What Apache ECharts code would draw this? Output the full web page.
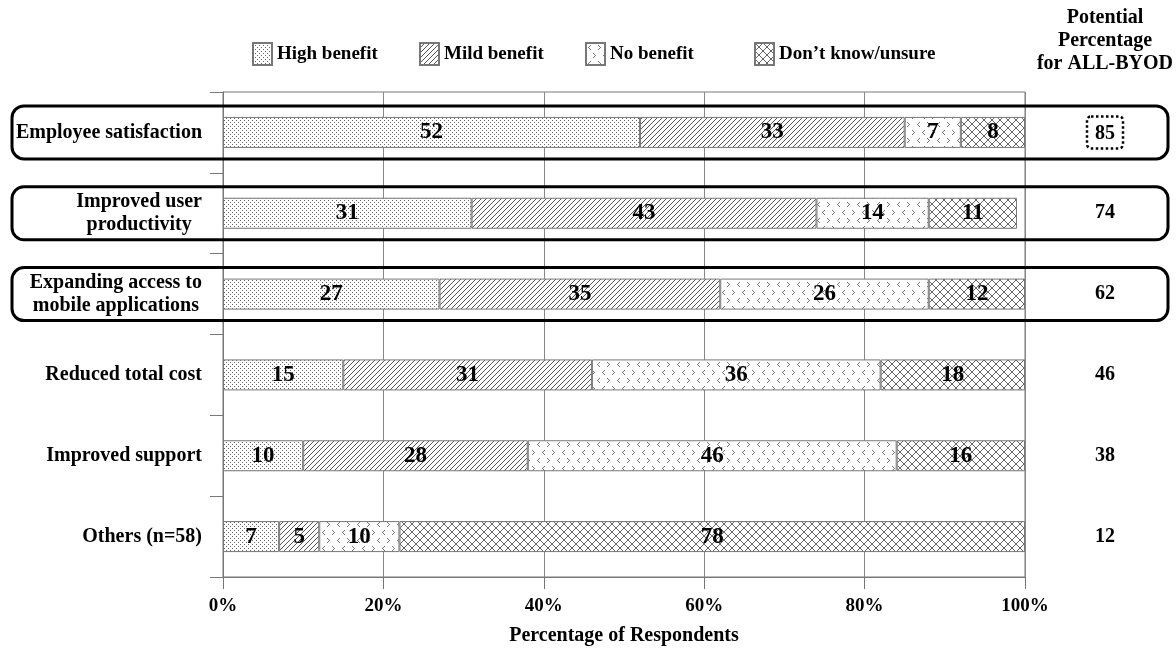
<!DOCTYPE html>
<html><head><meta charset="utf-8">
<script src="https://cdn.jsdelivr.net/npm/echarts@6/dist/echarts.min.js"></script>
<style>html,body{margin:0;padding:0;background:#fff}#c{width:1176px;height:651px}</style>
</head><body><div id="c"></div>
<script>
const categories = ['Employee satisfaction','Improved user\nproductivity','Expanding access to\nmobile applications','Reduced total cost','Improved support','Others (n=58)'];
const seriesNames = ['High benefit','Mild benefit','No benefit','Don\u2019t know/unsure'];
const highBenefit = [52,31,27,15,10,7];
const mildBenefit = [33,43,35,31,28,5];
const noBenefit = [7,14,26,36,46,10];
const dontKnow = [8,11,12,18,16,78];
const potential = [85,74,62,46,38,12];
const xTicks = [0,20,40,60,80,100];
const highlightedRows = [0,1,2];
const potentialHeader = 'Potential\nPercentage\nfor ALL-BYOD';
const xAxisTitle = 'Percentage of Respondents';

const F = '"Liberation Serif","Times New Roman",serif';

function makeCanvas(w,h,col,draw){const c=document.createElement('canvas');c.width=w;c.height=h;const g=c.getContext('2d');g.fillStyle='#fff';g.fillRect(0,0,w,h);g.fillStyle=col;draw(g);return c;}
const dots = makeCanvas(4,4,'#666',g=>{g.fillRect(0,0,1,1);g.fillRect(2,2,1,1);});
const hatch = makeCanvas(5,5,'#555',g=>{for(let i=0;i<5;i++) g.fillRect(i,4-i,1,1);});
const cross = makeCanvas(8,8,'#666',g=>{for(let i=0;i<8;i++){g.fillRect(i,i,1,1);g.fillRect(i,7-i,1,1);}});
const chev = makeCanvas(20,16,'#777',g=>{
  const lt=(x,y)=>{g.fillRect(x+2,y,1,1);g.fillRect(x+1,y+1,1,1);g.fillRect(x,y+2,1,1);g.fillRect(x+1,y+3,1,1);g.fillRect(x+2,y+4,1,1);};
  const gt=(x,y)=>{g.fillRect(x,y,1,1);g.fillRect(x+1,y+1,1,1);g.fillRect(x+2,y+2,1,1);g.fillRect(x+1,y+3,1,1);g.fillRect(x,y+4,1,1);};
  lt(2,2); gt(12,2); gt(7,10); lt(17,10);
});
const patterns=[dots,hatch,chev,cross];
const dataArrays=[highBenefit,mildBenefit,noBenefit,dontKnow];
const legendLeft=[247,414,580,749];

const chart = echarts.init(document.getElementById('c'),null,{renderer:'canvas'});
const series = seriesNames.map((n,i)=>({
  name:n,type:'bar',stack:'t',barWidth:31,yAxisIndex:0,
  data:dataArrays[i],
  itemStyle:{color:{image:patterns[i],repeat:'repeat'},borderColor:'#777',borderWidth:1},
  label:{show:true,position:'inside',color:'#000',fontFamily:F,fontWeight:'bold',fontSize:23,textBorderWidth:0},
  emphasis:{disabled:true},silent:true
}));
const txt = {fontFamily:F,fontWeight:'bold',fontSize:20,color:'#000'};
const option = {
  animation:false,
  backgroundColor:'#fff',
  grid:{left:223,right:151,top:92,bottom:74,show:true,borderColor:'#777',borderWidth:1,backgroundColor:'transparent'},
  legend: seriesNames.map((n,i)=>({data:[n],left:legendLeft[i],top:37,itemWidth:19,itemHeight:22,itemGap:0,icon:'rect',selectedMode:false,
    textStyle:{fontFamily:F,fontWeight:'bold',fontSize:19,color:'#000'}})),
  xAxis:{type:'value',min:xTicks[0],max:xTicks[xTicks.length-1],interval:xTicks[1]-xTicks[0],
    axisLine:{show:true,lineStyle:{color:'#777',width:1}},
    axisTick:{show:true,length:12,lineStyle:{color:'#777'}},
    axisLabel:{formatter:'{value}%',margin:20,color:'#000',fontFamily:F,fontWeight:'bold',fontSize:19},
    splitLine:{show:true,lineStyle:{color:'#888',width:1}},
    name:xAxisTitle,nameLocation:'middle',nameGap:49,nameTextStyle:txt},
  yAxis:[
    {type:'category',data:categories,inverse:true,
     axisLine:{show:true,lineStyle:{color:'#777',width:1}},
     axisTick:{show:true,length:13,lineStyle:{color:'#777'}},
     splitLine:{show:false},
     axisLabel:{margin:21,color:'#000',fontFamily:F,fontWeight:'bold',fontSize:20,lineHeight:23,
       formatter:v=>v.split('\n').map(s=>'{c|'+s+'}').join('\n'),
       rich:{c:{align:'center',fontFamily:F,fontWeight:'bold',fontSize:20,lineHeight:23,color:'#000'}}}},
    {type:'category',data:categories,inverse:true,position:'right',
     axisLine:{show:false},axisTick:{show:false},splitLine:{show:false},
     axisLabel:{margin:80,align:'center',
       formatter:(v,i)=>i===0?'{box|'+potential[i]+'}':'{n|'+potential[i]+'}',
       rich:{n:Object.assign({},txt),
             box:Object.assign({},txt,{borderColor:'#000',borderWidth:2.5,borderType:'dotted',borderRadius:4,padding:[7,8,5,8]})}}}
  ],
  series:series
};
chart.setOption(option);
const xRight = chart.convertToPixel({xAxisIndex:0}, xTicks[xTicks.length-1]);
const graphics = [{type:'text',id:'hdr',x:xRight+80,y:6,silent:true,
  style:{text:potentialHeader,fill:'#000',font:'bold 20px "Liberation Serif"',lineHeight:23,align:'center',textAlign:'center',verticalAlign:'top'}}];
highlightedRows.forEach(i=>{
  const cy = chart.convertToPixel({yAxisIndex:0}, categories[i]);
  graphics.push({type:'rect',id:'box'+i,z:100,silent:true,shape:{x:12,y:cy-26.5,width:1156,height:53,r:12},
    style:{fill:'none',stroke:'#000',lineWidth:3}});
});
chart.setOption({graphic:graphics});
</script></body></html>
